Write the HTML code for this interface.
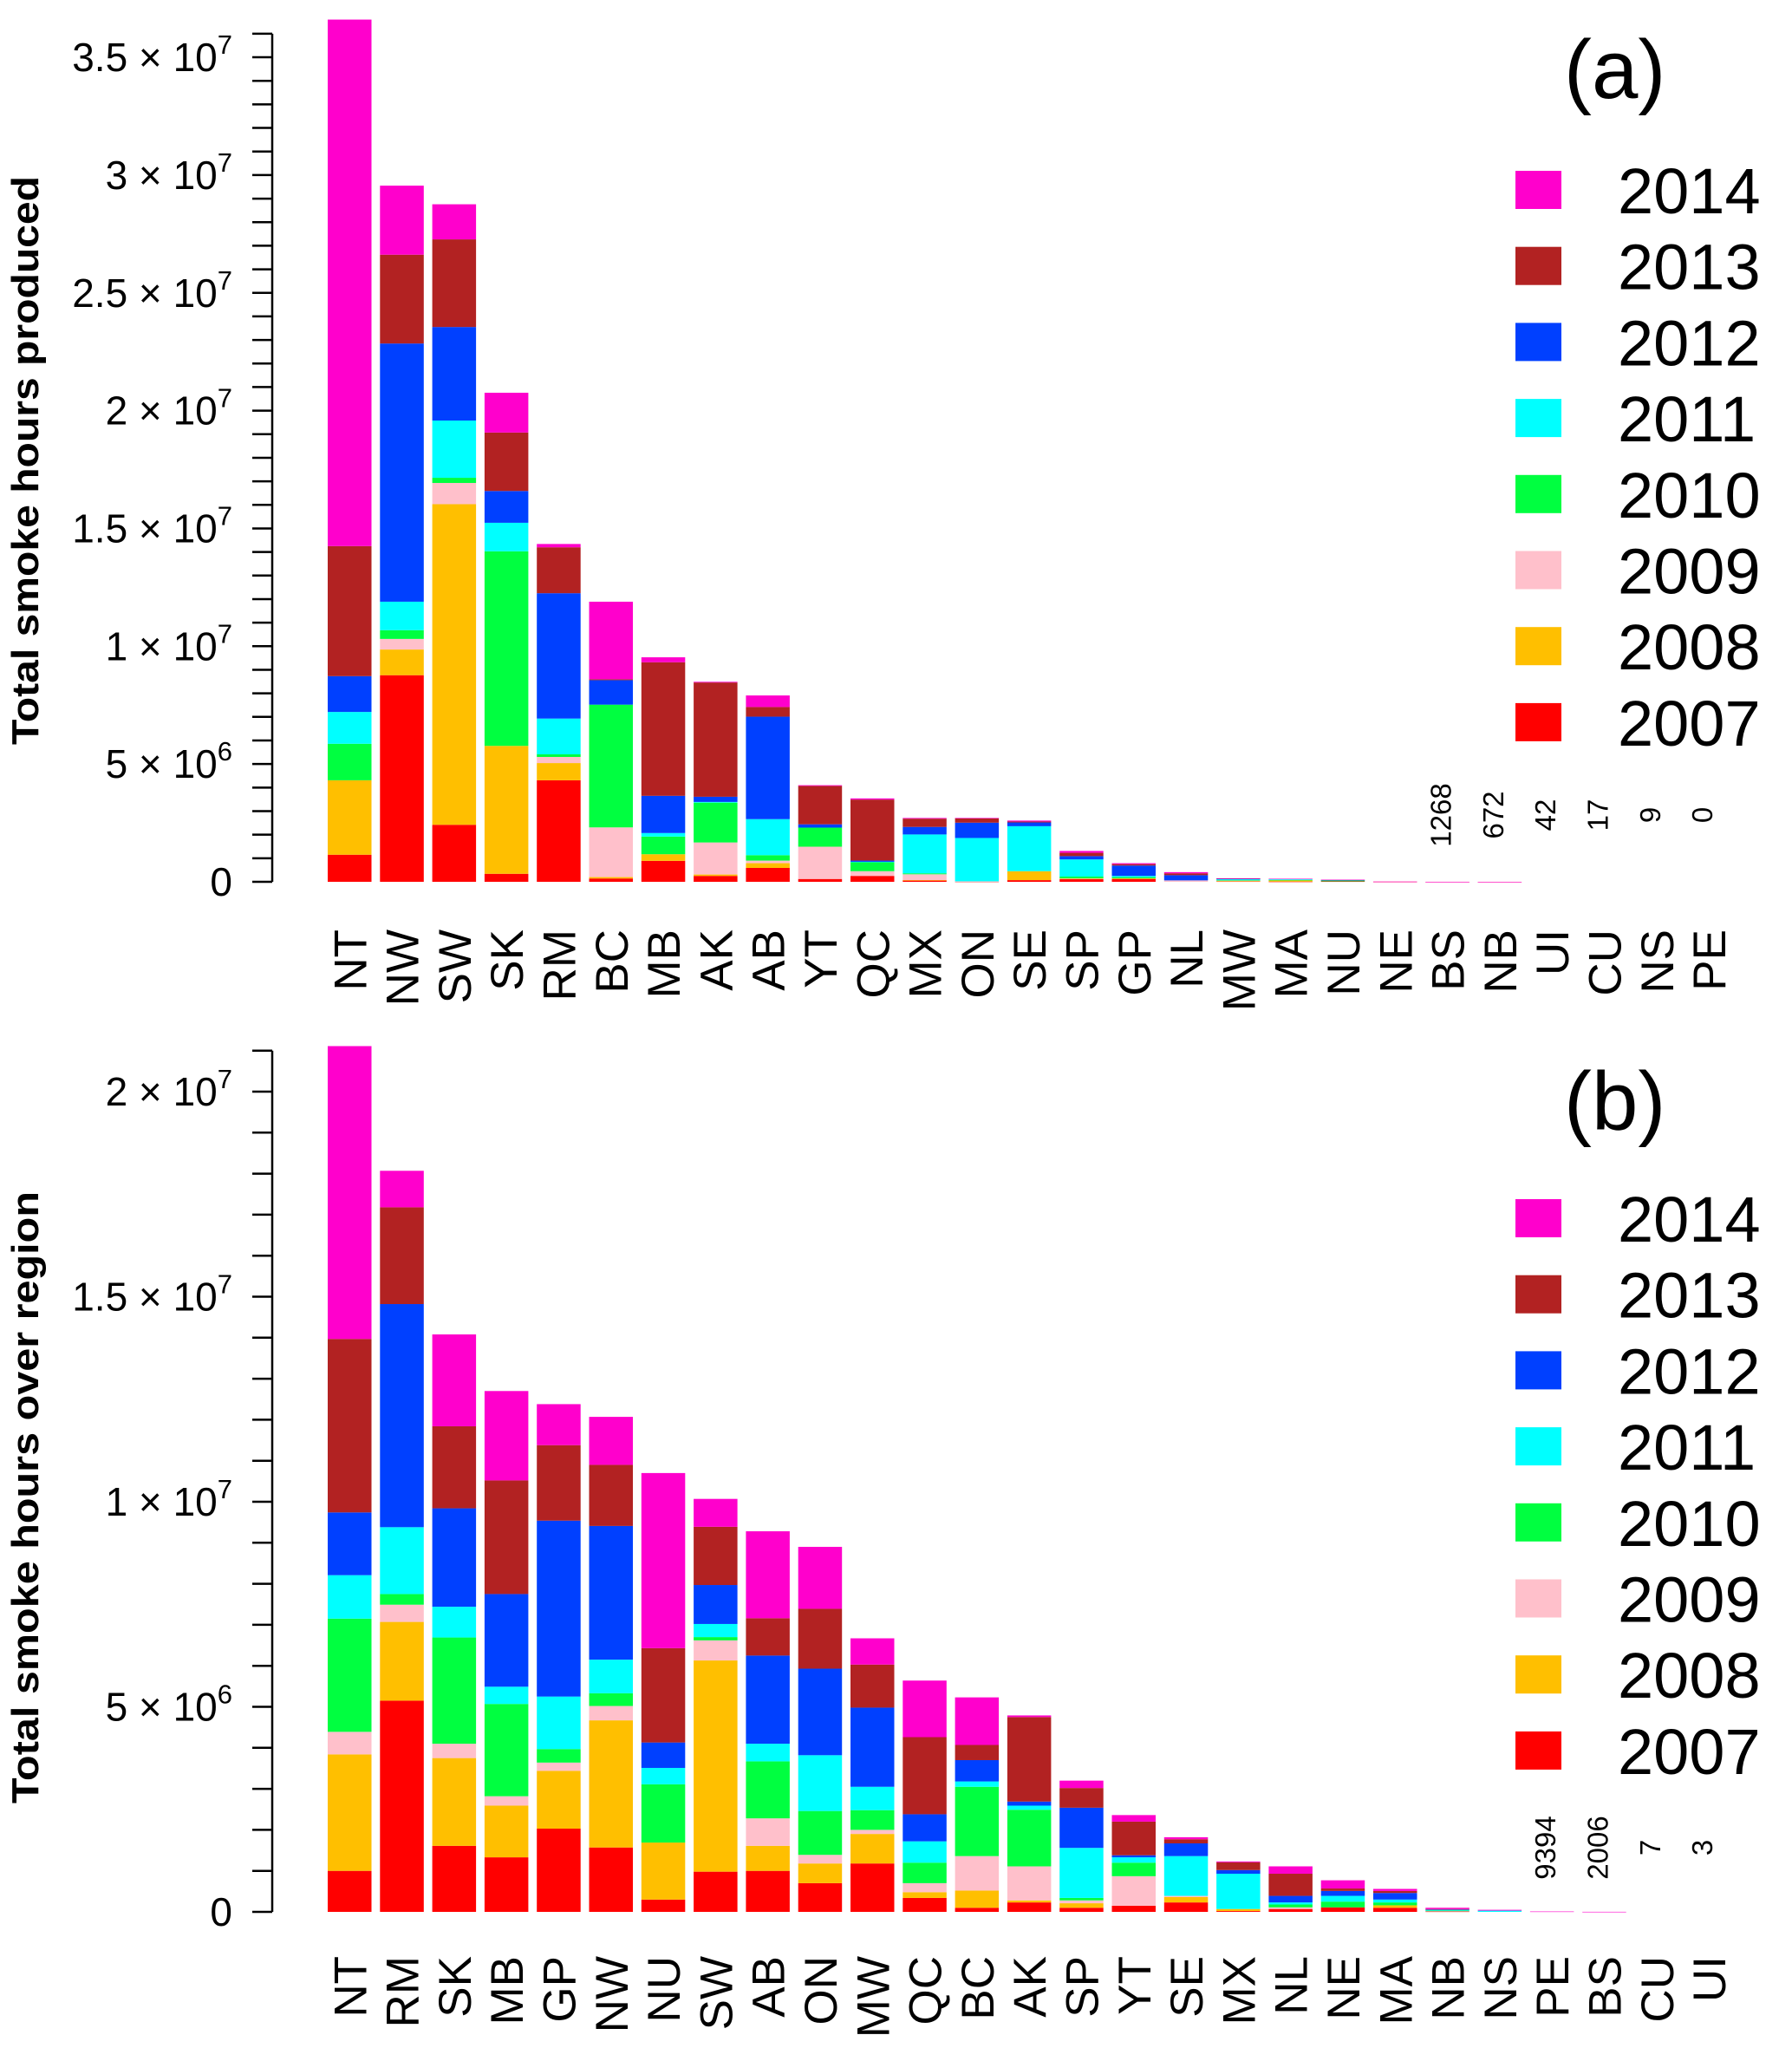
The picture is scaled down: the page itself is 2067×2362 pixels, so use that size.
<!DOCTYPE html>
<html><head><meta charset="utf-8">
<style>
html,body{margin:0;padding:0;background:#fff;}
svg{display:block;font-family:"Liberation Sans",Arial,sans-serif;}
</style></head>
<body>
<svg id="chart" width="2067" height="2362" viewBox="0 0 2067 2362" xmlns="http://www.w3.org/2000/svg"></svg>
<script>
// ---------- data (millions of smoke hours) ----------
const years = ["2007","2008","2009","2010","2011","2012","2013","2014"];
const yearColors = ["#FF0000","#FFBF00","#FFC0CB","#00FF40","#00FFFF","#0040FF","#B22222","#FF00CC"];

const regionsA = ["NT","NW","SW","SK","RM","BC","MB","AK","AB","YT","QC","MX","ON","SE","SP","GP","NL","MW","MA","NU","NE","BS","NB","UI","CU","NS","PE"];
const a2007 = [1.15,8.77,2.42,0.34,4.31,0.14,0.89,0.25,0.59,0.12,0.25,0.06,0.01,0.07,0.11,0.12,0,0.02,0.01,0.02,0.005,0.0006,0.0003,0,0,0,0];
const a2008 = [3.16,1.09,13.61,5.43,0.73,0.06,0.28,0.06,0.20,0,0,0.01,0,0.38,0.02,0.03,0,0.01,0.05,0,0,0,0,0,0,0,0];
const a2009 = [0,0.45,0.90,0,0.26,2.11,0,1.36,0.11,1.37,0.20,0.25,0.01,0,0.02,0,0.06,0.03,0,0,0,0,0,0,0,0,0];
const a2010 = [1.55,0.37,0.22,8.26,0.11,5.21,0.75,1.69,0.23,0.81,0.38,0.04,0,0,0.07,0.05,0,0.01,0.02,0.05,0,0,0,0,0,0,0];
const a2011 = [1.35,1.21,2.43,1.21,1.52,0,0.15,0.03,1.53,0,0.02,1.65,1.84,1.91,0.73,0.05,0,0.05,0.04,0,0,0,0,0,0,0,0];
const a2012 = [1.52,10.96,3.97,1.35,5.32,1.04,1.58,0.22,4.35,0.14,0.05,0.32,0.65,0.16,0.14,0.44,0.22,0.01,0,0.01,0,0,0,0,0,0,0];
const a2013 = [5.52,3.77,3.72,2.48,1.95,0.04,5.67,4.85,0.41,1.63,2.59,0.35,0.19,0.04,0.14,0.06,0.08,0.01,0,0,0,0,0,0,0,0,0];
const a2014 = [22.35,2.93,1.49,1.69,0.14,3.29,0.21,0.03,0.49,0.03,0.05,0.03,0.01,0.04,0.08,0.04,0.05,0.01,0.01,0.01,0.005,0.0006,0.0004,0,0,0,0];
const smallLabelsA = ["1268","672","42","17","9","0"];
const smallLabelIdxA = [21,22,23,24,25,26];
const yTicksA = [0,5,10,15,20,25,30,35];
const yTickLabelsA = [["0",""],["5","6"],["1","7"],["1.5","7"],["2","7"],["2.5","7"],["3","7"],["3.5","7"]];

const regionsB = ["NT","RM","SK","MB","GP","NW","NU","SW","AB","ON","MW","QC","BC","AK","SP","YT","SE","MX","NL","NE","MA","NB","NS","PE","BS","CU","UI"];
const b2007 = [1.0,5.15,1.61,1.33,2.03,1.57,0.30,0.98,1.0,0.70,1.18,0.34,0.10,0.23,0.10,0.15,0.23,0.02,0.07,0.11,0.10,0.01,0,0,0,0,0];
const b2008 = [2.84,1.92,2.14,1.26,1.41,3.10,1.39,5.15,0.61,0.48,0.72,0.14,0.42,0.05,0.11,0,0.13,0.05,0,0,0.06,0,0,0,0,0,0];
const b2009 = [0.55,0.42,0.35,0.23,0.20,0.35,0,0.49,0.67,0.21,0.10,0.22,0.84,0.83,0.07,0.72,0.03,0,0.04,0,0,0.01,0,0,0,0,0];
const b2010 = [2.76,0.26,2.59,2.25,0.33,0.31,1.42,0.08,1.39,1.07,0.48,0.50,1.69,1.38,0.06,0.33,0,0,0.07,0.14,0.07,0.01,0,0,0,0,0];
const b2011 = [1.06,1.63,0.75,0.42,1.28,0.82,0.40,0.32,0.43,1.36,0.57,0.52,0.13,0.10,1.22,0.13,0.97,0.86,0.05,0.14,0.07,0.02,0.03,0,0,0,0];
const b2012 = [1.53,5.44,2.40,2.26,4.29,3.26,0.62,0.95,2.15,2.11,1.93,0.66,0.52,0.10,0.98,0.05,0.31,0.09,0.16,0.12,0.16,0.01,0,0,0,0,0];
const b2013 = [4.23,2.36,2.00,2.77,1.84,1.49,2.30,1.42,0.91,1.46,1.05,1.88,0.37,2.06,0.48,0.82,0.10,0.19,0.54,0.06,0.05,0.01,0,0,0,0,0];
const b2014 = [7.14,0.89,2.24,2.18,1.00,1.17,4.27,0.68,2.12,1.51,0.64,1.38,1.16,0.04,0.18,0.16,0.05,0.02,0.18,0.20,0.05,0.03,0.02,0.0094,0.002,0,0];
const smallLabelsB = ["9394","2006","7","3"];
const smallLabelIdxB = [23,24,25,26];
const yTicksB = [0,5,10,15,20];
const yTickLabelsB = [["0",""],["5","6"],["1","7"],["1.5","7"],["2","7"]];

// ---------- rendering ----------
const NS = "http://www.w3.org/2000/svg";
const svg = document.getElementById("chart");
function mk(tag, attrs, parent){const e=document.createElementNS(NS,tag);for(const k in attrs)e.setAttribute(k,attrs[k]);(parent||svg).appendChild(e);return e;}

const BAR_LEFT=378, PITCH=60.3, BAR_W=50.5, AXIS_X=314;

function drawPanel(cfg){
  const g = mk("g",{});
  
  
  const yS = v => cfg.base - v*cfg.unit;
  const xS = i => BAR_LEFT + i*PITCH;
  const ax = mk("g",{},g);
  
  
  mk("line",{x1:AXIS_X,x2:AXIS_X,y1:yS(cfg.maxTick),y2:yS(0),stroke:"#000","stroke-width":2.5},ax);
  for(let t=0;t<=cfg.maxTick;t++){
    mk("line",{x1:AXIS_X-23,x2:AXIS_X,y1:yS(t),y2:yS(t),stroke:"#000","stroke-width":2.5},ax);
  }
  cfg.ticks.forEach((t,k)=>{
    const lab = cfg.tickLabels[k];
    const tx = mk("text",{x:268,y:yS(t)+16,"text-anchor":"end","font-size":46},ax);
    
    
    if(lab[1]===""){tx.textContent=lab[0];}
    else{
      const s1=mk("tspan",{},tx); s1.textContent=lab[0]+" \u00D7 10";
      const s2=mk("tspan",{dy:-20,"font-size":31},tx); s2.textContent=lab[1];
    }
  });
  const yt = mk("text",{x:0,y:0,transform:`translate(${cfg.titleX},${cfg.titleY}) rotate(-90)`,"text-anchor":"middle","font-size":44,"font-weight":"bold",textLength:cfg.titleLen,lengthAdjust:"spacingAndGlyphs"},g);
  
  
  yt.textContent = cfg.title;
  cfg.regions.forEach((r,i)=>{
    const bg = mk("g",{},g);
    
    
    let cum=0;
    cfg.series.forEach((arr,s)=>{
      const v=arr[i]; if(!(v>0)) return;
      const y0=yS(cum), y1=yS(cum+v); cum+=v;
      const rc = mk("rect",{x:xS(i),y:y1,width:BAR_W,height:Math.max(y0-y1,0.6),fill:yearColors[s]},bg);
      
      
    });
    const cx = xS(i)+BAR_W/2;
    const lt = mk("text",{x:0,y:0,transform:`translate(${cx+19},${cfg.labelTop}) rotate(-90)`,"text-anchor":"end","font-size":53},g);
    
    
    lt.textContent = r;
  });
  cfg.small.forEach((s,k)=>{
    const cx = xS(cfg.smallIdx[k])+BAR_W/2;
    const st = mk("text",{x:0,y:0,transform:`translate(${cx+4},${cfg.smallY}) rotate(-90)`,"text-anchor":"middle","font-size":33},g);
    
    
    st.textContent = s;
  });
  const pl = mk("text",{x:1804,y:cfg.letterY,"font-size":96},g);
  
  
  pl.textContent = cfg.letter;
  const lg = mk("g",{},g);
  
  
  for(let k=0;k<8;k++){
    const yi = 7-k;
    const cy = cfg.legendY + k*87.7;
    const sq = mk("rect",{x:1748,y:cy-22,width:53,height:44,fill:yearColors[yi]},lg);
    
    
    const lt2 = mk("text",{x:1866,y:cy+27,"font-size":74},lg);
    
    
    lt2.textContent = years[yi];
  }
}

drawPanel({name:"panel-a",base:1017,unit:27.17,maxTick:36,ticks:yTicksA,tickLabels:yTickLabelsA,
  title:"Total smoke hours produced",titleX:44,titleY:531,titleLen:656,
  regions:regionsA,series:[a2007,a2008,a2009,a2010,a2011,a2012,a2013,a2014],
  labelTop:1072,small:smallLabelsA,smallIdx:smallLabelIdxA,smallY:940,letter:"(a)",letterY:113,legendY:219});
drawPanel({name:"panel-b",base:2205,unit:47.3,maxTick:21,ticks:yTicksB,tickLabels:yTickLabelsB,
  title:"Total smoke hours over region",titleX:44,titleY:1727,titleLen:706,
  regions:regionsB,series:[b2007,b2008,b2009,b2010,b2011,b2012,b2013,b2014],
  labelTop:2256,small:smallLabelsB,smallIdx:smallLabelIdxB,smallY:2131,letter:"(b)",letterY:1303,legendY:1405});
</script>
</body></html>
